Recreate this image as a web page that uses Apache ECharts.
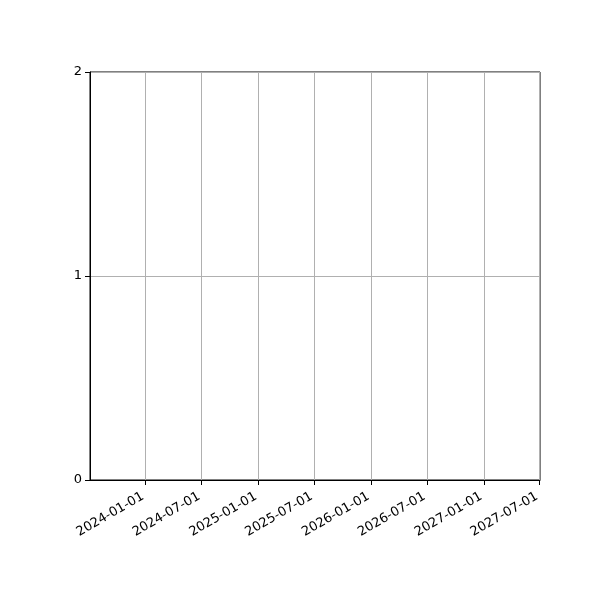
<!DOCTYPE html>
<html>
<head>
<meta charset="utf-8">
<script src="https://cdn.jsdelivr.net/npm/echarts@6/dist/echarts.min.js"></script>
<style>html,body{margin:0;padding:0;background:#fff}#c{width:600px;height:600px}</style>
</head>
<body>
<div id="c"></div>
<script>
var xRange = ['2023-07-05', '2027-07-02'];
var xTickLabels = ['2024-01-01', '2024-07-01', '2025-01-01', '2025-07-01', '2026-01-01', '2026-07-01', '2027-01-01', '2027-07-01'];
var yTicks = [0, 1, 2];
var seriesData = [];

function ts(s) { return new Date(s + 'T00:00:00Z').getTime(); }
function fmt(v) { return new Date(v).toISOString().slice(0, 10); }

var chart = echarts.init(document.getElementById('c'));
chart.setOption({
  animation: false,
  backgroundColor: '#ffffff',
  grid: { left: 90, right: 60, top: 72, bottom: 120, show: true, borderColor: '#000', borderWidth: 1, backgroundColor: 'transparent' },
  xAxis: {
    type: 'value',
    min: ts(xRange[0]),
    max: ts(xRange[1]),
    axisLine: { show: true, onZero: false, lineStyle: { color: '#000', width: 1 } },
    axisTick: { show: true, length: 5, lineStyle: { color: '#000' }, customValues: xTickLabels.map(ts) },
    axisLabel: {
      customValues: xTickLabels.map(ts),
      formatter: function (v) { return fmt(v); },
      rotate: 30, margin: 14, padding: [0, 3, 0, 0], color: '#000', fontSize: 13, fontFamily: 'DejaVu Sans'
    },
    splitLine: { show: true, lineStyle: { color: '#b0b0b0', width: 1 } }
  },
  yAxis: {
    type: 'value',
    min: yTicks[0],
    max: yTicks[yTicks.length - 1],
    interval: 1,
    axisLine: { show: true, lineStyle: { color: '#000', width: 1 } },
    axisTick: { show: true, length: 5, lineStyle: { color: '#000' } },
    axisLabel: { color: '#000', fontSize: 13, fontFamily: 'DejaVu Sans', margin: 8 },
    splitLine: { show: true, lineStyle: { color: '#b0b0b0', width: 1 } }
  },
  series: [{ type: 'line', data: seriesData, showSymbol: false }]
});
</script>
</body>
</html>
